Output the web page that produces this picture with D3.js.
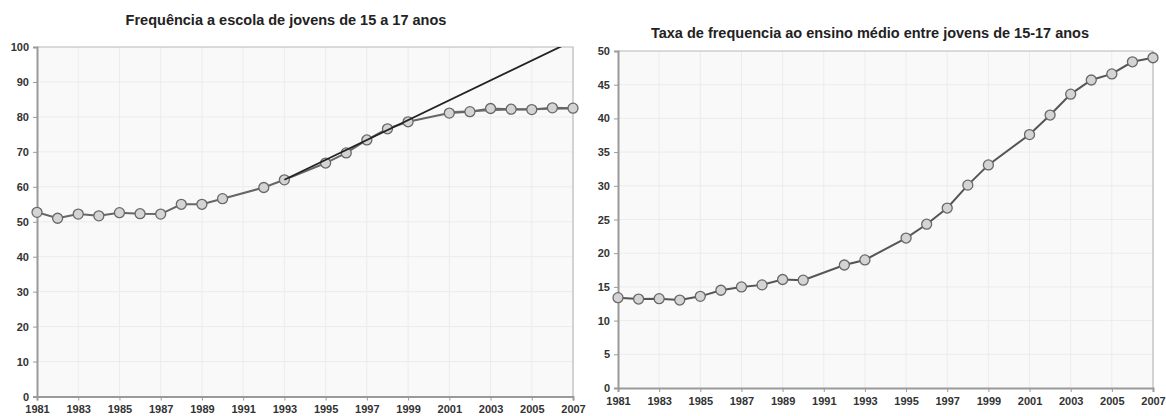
<!DOCTYPE html>
<html><head><meta charset="utf-8">
<script src="https://cdn.jsdelivr.net/npm/d3@7"></script>
<style>body{margin:0;background:#fff;font-family:"Liberation Sans",Arial,sans-serif}</style>
</head><body><svg id="c" width="1166" height="416"></svg>
<script>
const leftTitle = "Frequência a escola de jovens de 15 a 17 anos";
const rightTitle = "Taxa de frequencia ao ensino médio entre jovens de 15-17 anos";
const years = [1981,1982,1983,1984,1985,1986,1987,1988,1989,1990,1992,1993,1995,1996,1997,1998,1999,2001,2002,2003,2004,2005,2006,2007];
const leftValues = [52.7,51.0,52.2,51.7,52.6,52.3,52.2,55.0,55.0,56.6,59.8,62.0,66.8,69.7,73.4,76.6,78.6,81.1,81.5,82.4,82.2,82.1,82.6,82.5];
const plateauYears = [2001,2002,2003,2004,2005,2006,2007];
const plateauValues = [81.3,81.6,81.9,82.1,82.2,82.3,82.4];
const trendYears = [1993,2007];
const trendValues = [62.0,101.8];
const rightValues = [13.4,13.2,13.25,13.05,13.6,14.5,15.0,15.3,16.1,16.0,18.25,19.0,22.25,24.3,26.7,30.1,33.1,37.6,40.5,43.6,45.7,46.6,48.4,49.0];
const xTicks = [1981,1983,1985,1987,1989,1991,1993,1995,1997,1999,2001,2003,2005,2007];
const leftYTicks = [0,10,20,30,40,50,60,70,80,90,100];
const rightYTicks = [0,5,10,15,20,25,30,35,40,45,50];

const svg = d3.select("#c");

function panel(opt){
  const g = svg.append("g");
  const x = d3.scaleLinear().domain([1981,2007]).range([opt.x0,opt.x1]);
  const y = d3.scaleLinear().domain([0,opt.ymax]).range([opt.y1,opt.y0]);
  g.append("rect").attr("x",opt.x0).attr("y",opt.y0).attr("width",opt.x1-opt.x0).attr("height",opt.y1-opt.y0).attr("fill","#f9f9f9");
  g.selectAll(".vg").data(xTicks.slice(1,-1)).join("line").attr("x1",d=>x(d)).attr("x2",d=>x(d)).attr("y1",opt.y0).attr("y2",opt.y1).attr("stroke","#ececec").attr("stroke-width",1);
  g.selectAll(".hg").data(opt.yTicks.slice(1,-1)).join("line").attr("x1",opt.x0).attr("x2",opt.x1).attr("y1",d=>y(d)).attr("y2",d=>y(d)).attr("stroke","#ececec").attr("stroke-width",1);
  g.append("path").attr("d",`M${opt.x0},${opt.y0}H${opt.x1}V${opt.y1}`).attr("fill","none").attr("stroke","#b8b8b8").attr("stroke-width",1.2);
  const xa = g.append("g").attr("transform",`translate(0,${opt.y1})`).call(d3.axisBottom(x).tickValues(xTicks).tickFormat(d3.format("d")).tickSize(4).tickPadding(5));
  const ya = g.append("g").attr("transform",`translate(${opt.x0},0)`).call(d3.axisLeft(y).tickValues(opt.yTicks).tickSize(4).tickPadding(4));
  [xa,ya].forEach(a=>{
    a.select(".domain").attr("stroke","#9a9a9a").attr("stroke-width",2);
    a.selectAll(".tick line").attr("stroke","#9a9a9a");
    a.selectAll("text").attr("fill","#333").attr("font-size",11).attr("font-weight","bold").attr("font-family","'Liberation Sans',Arial,sans-serif");
  });
  g.append("text").attr("x",opt.tx).attr("y",opt.ty).attr("text-anchor","middle").attr("font-size",14.5).attr("font-weight","bold").attr("fill","#222").text(opt.title);
  const cid = "clip"+opt.id;
  svg.append("clipPath").attr("id",cid).append("rect").attr("x",opt.x0).attr("y",opt.y0).attr("width",opt.x1-opt.x0).attr("height",opt.y1-opt.y0);
  return {g,x,y,cid};
}

function series(p, xs, vs, markers, color, width){
  const line = d3.line().x((d,i)=>p.x(xs[i])).y(d=>p.y(d));
  p.g.append("path").datum(vs).attr("d",line).attr("fill","none").attr("stroke",color).attr("stroke-width",width).attr("clip-path",`url(#${p.cid})`);
  if(markers){
    p.g.selectAll(null).data(vs).join("circle").attr("cx",(d,i)=>p.x(xs[i])).attr("cy",d=>p.y(d)).attr("r",5).attr("fill","#d4d4d4").attr("stroke","#686868").attr("stroke-width",1.3);
  }
}

const L = panel({id:"L",x0:37,x1:573,y0:47,y1:396.5,ymax:100,yTicks:leftYTicks,title:leftTitle,tx:286,ty:25});
series(L, plateauYears, plateauValues, false, "#777", 2);
series(L, years, leftValues, true, "#666", 2);
series(L, trendYears, trendValues, false, "#222", 1.8);

const R = panel({id:"R",x0:618,x1:1153,y0:51,y1:388,ymax:50,yTicks:rightYTicks,title:rightTitle,tx:870,ty:38});
series(R, years, rightValues, true, "#555", 2);
</script></body></html>
